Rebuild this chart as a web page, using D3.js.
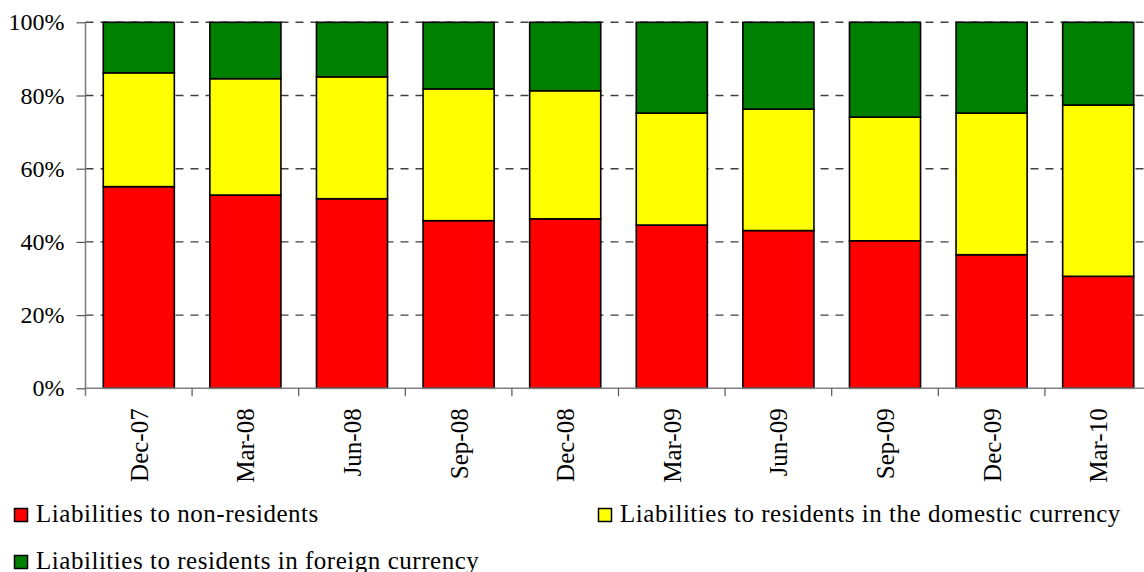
<!DOCTYPE html>
<html>
<head>
<meta charset="utf-8">
<script src="https://cdn.jsdelivr.net/npm/d3@7"></script>
<style>
  html, body { margin: 0; padding: 0; background: #fff; }
  svg { display: block; }
  text { font-family: "Liberation Serif", "Times New Roman", serif; fill: #000; }
</style>
</head>
<body>
<svg id="chart" width="1144" height="572"></svg>
<script>
// Quarter-end dates shown on the category axis
const quarters = ["Dec-07", "Mar-08", "Jun-08", "Sep-08", "Dec-08", "Mar-09", "Jun-09", "Sep-09", "Dec-09", "Mar-10"];

// Shares of total liabilities, in percent
const nonResidents      = [55.1, 52.8, 51.8, 45.8, 46.3, 44.6, 43.1, 40.3, 36.5, 30.6];
const residentsDomestic = [31.1, 31.8, 33.3, 36.0, 35.0, 30.6, 33.2, 33.8, 38.7, 46.8];
const residentsForeign  = [13.8, 15.4, 14.9, 18.2, 18.7, 24.8, 23.7, 25.9, 24.8, 22.6];

const seriesNames = [
  "Liabilities to non-residents",
  "Liabilities to residents in the domestic currency",
  "Liabilities to residents in foreign currency"
];
const seriesColors = ["#ff0000", "#ffff00", "#008000"];
const yTicks = [0, 20, 40, 60, 80, 100];

const FONT = '"Liberation Serif", "Times New Roman", serif';
const svg = d3.select("#chart");

const plot = { left: 85.5, right: 1151.5, top: 22.3, bottom: 388.3 };

const x = d3.scaleBand()
  .domain(quarters)
  .range([plot.left, plot.right])
  .paddingInner(1 / 3)
  .paddingOuter(1 / 6);

const y = d3.scaleLinear()
  .domain([0, 100])
  .range([plot.bottom, plot.top]);

// Stack the three series per quarter
const rows = quarters.map((q, i) => ({
  q,
  s0: nonResidents[i],
  s1: residentsDomestic[i],
  s2: residentsForeign[i]
}));
const stacked = d3.stack().keys(["s0", "s1", "s2"])(rows);

// Dashed horizontal gridlines
svg.append("g")
  .selectAll("line")
  .data(yTicks.filter(t => t > 0))
  .join("line")
  .attr("x1", plot.left)
  .attr("x2", plot.right)
  .attr("y1", d => y(d))
  .attr("y2", d => y(d))
  .attr("stroke", "#404040")
  .attr("stroke-width", 1.4)
  .attr("stroke-dasharray", "8,7");

// Stacked bars
svg.append("g")
  .selectAll("g")
  .data(stacked)
  .join("g")
  .attr("fill", (d, i) => seriesColors[i])
  .selectAll("rect")
  .data(d => d)
  .join("rect")
  .attr("x", d => x(d.data.q))
  .attr("width", x.bandwidth())
  .attr("y", d => y(d[1]))
  .attr("height", d => y(d[0]) - y(d[1]))
  .attr("stroke", "#000")
  .attr("stroke-width", 1.6);

// Y axis
const yAxis = svg.append("g")
  .attr("transform", `translate(${plot.left},0)`)
  .call(d3.axisLeft(y).tickValues(yTicks).tickFormat(d => d + "%").tickSize(9).tickPadding(12))
  .attr("font-family", FONT)
  .attr("font-size", 24);
yAxis.select(".domain").attr("stroke", "#808080").attr("stroke-width", 1.6)
  .attr("d", `M0,${plot.top}V${plot.bottom + 8}`);
yAxis.selectAll(".tick line").attr("stroke", "#555").attr("stroke-width", 1.2);
yAxis.selectAll("text")
  .style("font-family", FONT)
  .style("font-size", "24px")
  .attr("fill", "#000");

// X axis: category boundaries carry the tick marks
const xAxisG = svg.append("g");
xAxisG.append("line")
  .attr("x1", plot.left).attr("x2", plot.right)
  .attr("y1", plot.bottom).attr("y2", plot.bottom)
  .attr("stroke", "#808080").attr("stroke-width", 1.6);
xAxisG.selectAll("line.tick")
  .data(quarters.slice(1).concat(["__end"]))
  .join("line")
  .attr("class", "tick")
  .attr("x1", d => d === "__end" ? plot.right : x(d) - x.step() * x.paddingInner() / 2)
  .attr("x2", d => d === "__end" ? plot.right : x(d) - x.step() * x.paddingInner() / 2)
  .attr("y1", plot.bottom)
  .attr("y2", plot.bottom + 8)
  .attr("stroke", "#555").attr("stroke-width", 1.2);

// Rotated quarter labels
xAxisG.selectAll("text")
  .data(quarters)
  .join("text")
  .attr("transform", d => `translate(${x(d) + x.bandwidth() / 2 + 9},${plot.bottom + 20}) rotate(-90)`)
  .attr("text-anchor", "end")
  .style("font-family", FONT)
  .style("font-size", "25px")
  .text(d => d);

// Legend
const legendItems = [
  { name: seriesNames[0], color: seriesColors[0], x: 14, y: 522 },
  { name: seriesNames[1], color: seriesColors[1], x: 598, y: 522 },
  { name: seriesNames[2], color: seriesColors[2], x: 14, y: 569 }
];
const legend = svg.append("g")
  .selectAll("g")
  .data(legendItems)
  .join("g")
  .attr("transform", d => `translate(${d.x},${d.y})`);
legend.append("rect")
  .attr("x", 0.5).attr("y", -13.5)
  .attr("width", 13).attr("height", 13)
  .attr("fill", d => d.color)
  .attr("stroke", "#000").attr("stroke-width", 1.5);
legend.append("text")
  .attr("x", 22)
  .attr("y", 0)
  .style("font-family", FONT)
  .style("font-size", "25px")
  .style("letter-spacing", "0.53px")
  .text(d => d.name);
</script>
</body>
</html>
